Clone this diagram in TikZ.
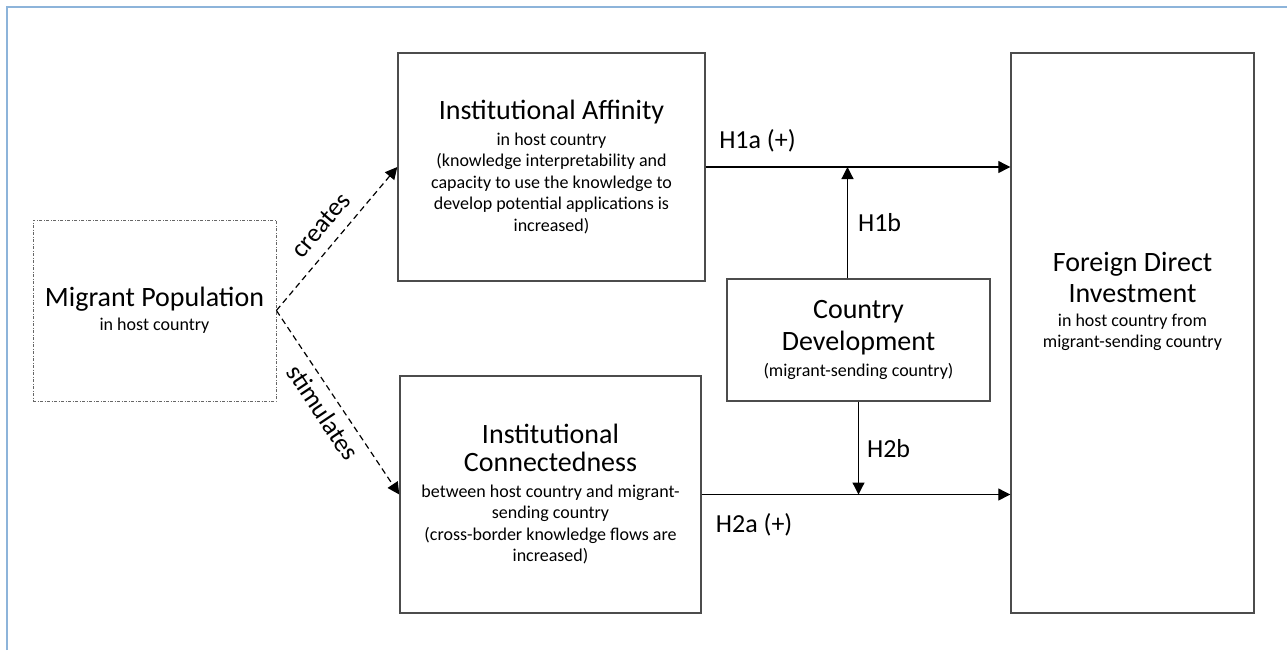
\documentclass[tikz,border=0pt]{standalone}
\usepackage{fontspec}
\setmainfont{Carlito}
\usepackage{tikz}
\usetikzlibrary{positioning, arrows.meta, calc}
\definecolor{framecol}{HTML}{8DB4DA}
\newcommand{\boxhead}{\fontsize{14}{16}\selectfont}
\newcommand{\boxnote}{\fontsize{9}{10.8}\selectfont}

\begin{document}
\begin{tikzpicture}[x=0.5pt, y=-0.5pt,
    box/.style={rectangle, draw=black!70, line width=0.7pt, align=center, inner sep=0pt, font=\boxnote},
    link/.style={-{Triangle[length=6pt, width=6pt]}, line width=0.6pt},
    hyp/.style={font=\fontsize{13}{15}\selectfont, inner sep=0pt}]
    \useasboundingbox (0,0) rectangle (1287,650);
    \draw[framecol, line width=0.6pt] (7,650) -- (7,7) -- (1287,7);

    % constructs
    \node[box, draw=black!60, line width=0.4pt, dash pattern=on 1.5pt off 0.8pt on 0.4pt off 0.8pt,
          minimum width=121.5pt, minimum height=90.5pt] (mig) at (154.5,310.5)
        {{\boxhead Migrant Population}\\[1pt] in host country};
    \node[box, minimum width=153.5pt, minimum height=114pt] (aff) at (551.5,167)
        {{\boxhead Institutional Affinity}\\[2pt] in host country\\ (knowledge interpretability and\\
         capacity to use the knowledge to\\ develop potential applications is\\ increased)};
    \node[box, minimum width=150.5pt, minimum height=118.5pt] (con) at (550.5,494.5)
        {{\boxhead Institutional}\\[3pt] {\boxhead Connectedness}\\[2pt] between host country and migrant-\\
         sending country\\ (cross-border knowledge flows are\\ increased)};
    \node[box, minimum width=131.5pt, minimum height=61pt] (dev) at (858.5,340)
        {{\boxhead Country}\\[3pt] {\boxhead Development}\\[2pt] (migrant-sending country)};
    \node[box, minimum width=121.5pt, minimum height=280pt] (fdi) at (1132.5,333)
        {{\boxhead Foreign Direct}\\[3pt] {\boxhead Investment}\\[1pt] in host country from\\
         migrant-sending country\\[22pt] \mbox{}};

    % effects of migrants
    \draw[link, dashed, dash pattern=on 3pt off 2pt] (mig.east) -- (aff.west)
        node[hyp, midway, sloped, above=6pt] {creates};
    \draw[link, dashed, dash pattern=on 3pt off 2pt] (mig.east) -- (con.west)
        node[hyp, midway, sloped, below=4pt] {stimulates};

    % hypotheses
    \draw[link] (aff.east) -- (aff.east -| fdi.west)
        node[hyp, pos=0.17, above=7pt] {H1a (+)};
    \draw[link] (con.east) -- (con.east -| fdi.west)
        node[hyp, pos=0.17, below=9pt] {H2a (+)};
    \coordinate (h1b) at ([xshift=-5.5pt]dev.north);
    \draw[link] (h1b) -- (h1b |- aff.east)
        node[hyp, midway, right=5pt] {H1b};
    \draw[link] (dev.south) -- (dev.south |- con.east)
        node[hyp, midway, right=4pt] {H2b};
\end{tikzpicture}
\end{document}
